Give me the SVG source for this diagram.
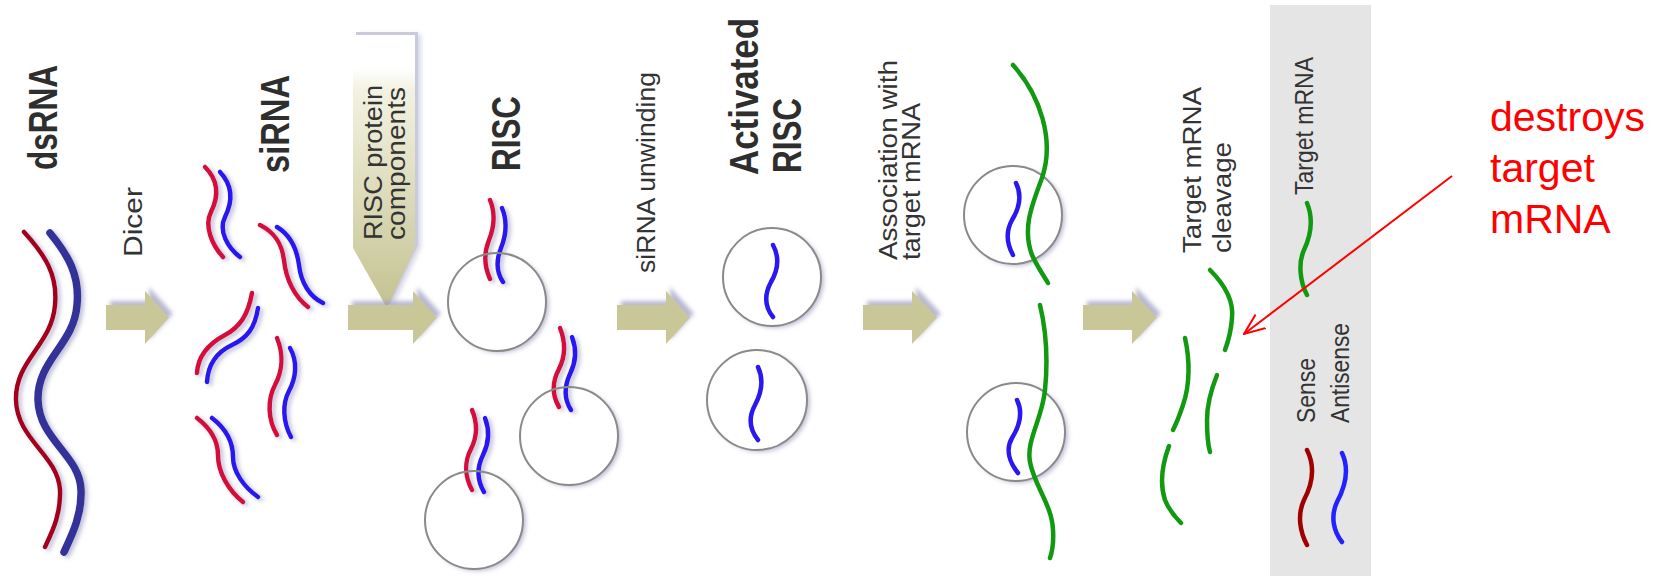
<svg xmlns="http://www.w3.org/2000/svg" width="1666" height="576" viewBox="0 0 1666 576">
  <style>
    .title { font-family: "Liberation Sans", Arial, sans-serif; font-weight: bold; font-size: 41px; fill: #2e2e2e; }
    .label { font-family: "Liberation Sans", Arial, sans-serif; font-size: 25px; fill: #333333; }
    .note { font-family: "Liberation Sans", Arial, sans-serif; font-size: 41px; fill: #ff0000; }
    .step { fill: #c9c798; filter: url(#lilac); }
    .cell { fill: #ffffff; filter: url(#halo); }
    .rim { fill: none; stroke: #8a8a8a; stroke-width: 2; }
    .ds-s { fill: none; stroke: #a4001c; stroke-width: 4.5; stroke-linecap: round; }
    .ds-a { fill: none; stroke: #333399; stroke-width: 7.5; stroke-linecap: round; }
    .s { fill: none; stroke: #d4103e; stroke-width: 4.5; stroke-linecap: round; }
    .a { fill: none; stroke: #2a18f0; stroke-width: 4.5; stroke-linecap: round; }
    .m { fill: none; stroke: #119a11; stroke-width: 4.5; stroke-linecap: round; }
    .shadowed { filter: url(#halo); }
  </style>
  <defs>
    <filter id="halo" x="-40%" y="-40%" width="180%" height="180%">
      <feDropShadow dx="3" dy="2" stdDeviation="2" flood-color="#8c8cb8" flood-opacity="0.55"/>
    </filter>
    <filter id="lilac" x="-40%" y="-40%" width="180%" height="180%">
      <feDropShadow dx="4" dy="-4" stdDeviation="2.2" flood-color="#9a9ac0" flood-opacity="0.7"/>
    </filter>
    <linearGradient id="boxFill" x1="0" y1="0" x2="0" y2="1">
      <stop offset="0" stop-color="#ffffff"/>
      <stop offset="0.12" stop-color="#ffffff"/>
      <stop offset="0.2" stop-color="#f3f2e2"/>
      <stop offset="1" stop-color="#c4c290"/>
    </linearGradient>
    <marker id="openHead" markerUnits="userSpaceOnUse" viewBox="0 0 22 20" markerWidth="22" markerHeight="20" refX="21" refY="10" orient="auto">
      <path d="M0,1.5 L21,10 L0,18.5" fill="none" stroke="#ff0000" stroke-width="2"/>
    </marker>
  </defs>

  <rect width="1666" height="576" fill="#ffffff"/>

  <!-- legend band -->
  <g id="legend">
    <rect x="1270" y="5" width="101" height="571" fill="#e5e5e5"/>
    <text class="label" font-size="28" transform="translate(1313,195) rotate(-90)" textLength="138" lengthAdjust="spacingAndGlyphs">Target mRNA</text>
    <path class="m" d="M1307,203 C1314,220 1311,235 1304,250 C1298,263 1300,282 1307,295"/>
    <text class="label" font-size="29" transform="translate(1315,423) rotate(-90)" textLength="65" lengthAdjust="spacingAndGlyphs">Sense</text>
    <text class="label" font-size="29" transform="translate(1349,423) rotate(-90)" textLength="100" lengthAdjust="spacingAndGlyphs">Antisense</text>
    <path fill="none" stroke="#a00000" stroke-width="4.5" stroke-linecap="round" d="M1307,450 C1316,468 1312,485 1304,500 C1297,515 1300,532 1307,545"/>
    <path fill="none" stroke="#2222ff" stroke-width="4.5" stroke-linecap="round" d="M1342,453 C1350,470 1345,487 1337,502 C1330,517 1334,532 1342,542"/>
  </g>

  <!-- dsRNA -->
  <g id="dsRNA">
    <text class="title" transform="translate(57,170) rotate(-90)" textLength="105" lengthAdjust="spacingAndGlyphs">dsRNA</text>
    <path class="ds-s shadowed" d="M24,232 C45,255 58,275 55,305 C52,345 15,360 16,400 C17,440 58,455 60,490 C61,515 52,532 45,547"/>
    <path class="ds-a shadowed" d="M50,233 C68,255 80,275 77,305 C74,345 37,360 38,400 C39,440 80,455 81,490 C82,515 72,535 64,552"/>
  </g>

  <!-- siRNA duplexes -->
  <g id="siRNA">
    <text class="title" transform="translate(289,173) rotate(-90)" textLength="98" lengthAdjust="spacingAndGlyphs">siRNA</text>
    <g class="shadowed">
      <path class="s" d="M205,167 C220,182 218,198 211,212 C204,226 212,245 223,257"/>
      <path class="a" d="M220,172 C234,187 232,203 225,217 C218,231 228,248 240,257"/>
      <path class="s" d="M260,225 C276,233 282,245 284,260 C286,280 295,297 308,307"/>
      <path class="a" d="M277,227 C292,236 297,250 299,265 C301,283 310,297 323,303"/>
      <path class="s" d="M252,293 C248,315 240,327 225,335 C210,343 198,355 197,373"/>
      <path class="a" d="M258,308 C255,328 247,338 232,345 C217,352 208,365 207,382"/>
      <path class="s" d="M277,338 C284,355 282,372 275,385 C267,400 268,420 277,435"/>
      <path class="a" d="M290,348 C298,362 296,378 289,391 C282,404 283,422 291,437"/>
      <path class="s" d="M197,418 C210,428 218,440 218,455 C218,472 228,490 243,502"/>
      <path class="a" d="M212,418 C225,428 233,442 233,457 C233,472 244,487 258,497"/>
    </g>
  </g>

  <!-- RISC protein components -->
  <g id="risc-proteins">
    <path d="M353,35 H415 V248 L387,308 L353,248 Z" fill="#a8a8c8" opacity="0.6" transform="translate(3,-3)" filter="url(#halo)"/>
    <path d="M353,35 H415 V248 L387,308 L353,248 Z" fill="url(#boxFill)"/>
    <text class="label" transform="translate(382,240) rotate(-90)" textLength="155" lengthAdjust="spacingAndGlyphs">RISC protein</text>
    <text class="label" transform="translate(405,240) rotate(-90)" textLength="153" lengthAdjust="spacingAndGlyphs">components</text>
  </g>

  <!-- RISC -->
  <g id="RISC">
    <text class="title" transform="translate(520,171) rotate(-90)" textLength="75" lengthAdjust="spacingAndGlyphs">RISC</text>
    <circle class="cell" cx="497" cy="302" r="49"/>
    <circle class="cell" cx="569" cy="436" r="49"/>
    <circle class="cell" cx="474" cy="520" r="49"/>
    <g class="shadowed">
      <path class="s" d="M490,200 C495,212 495,225 489,240 C483,255 485,268 490,279"/>
      <path class="a" d="M502,208 C507,220 507,233 501,248 C495,263 497,273 503,282"/>
      <path class="s" d="M560,328 C566,343 565,357 559,369 C552,382 552,395 559,407"/>
      <path class="a" d="M572,337 C577,350 576,362 570,374 C564,387 564,399 571,410"/>
      <path class="s" d="M472,410 C478,424 477,437 471,449 C464,462 465,477 472,490"/>
      <path class="a" d="M485,418 C490,431 489,443 483,455 C477,467 477,480 484,492"/>
    </g>
    <circle class="rim" cx="497" cy="302" r="49"/>
    <circle class="rim" cx="569" cy="436" r="49"/>
    <circle class="rim" cx="474" cy="520" r="49"/>
  </g>

  <!-- Activated RISC -->
  <g id="activated-RISC">
    <!-- condensed by a scale along the reading direction (184.5 px natural -> 157 px) -->
    <text class="title" transform="translate(758,175) rotate(-90) scale(0.851,1)">Activated</text>
    <text class="title" transform="translate(801,173) rotate(-90)" textLength="75" lengthAdjust="spacingAndGlyphs">RISC</text>
    <circle class="cell" cx="772" cy="277" r="49"/>
    <circle class="cell" cx="757" cy="400" r="50"/>
    <path class="a" d="M773,245 C780,258 778,270 771,282 C764,295 765,307 773,317"/>
    <path class="a" d="M758,367 C764,380 762,392 755,405 C748,418 750,430 758,440"/>
    <circle class="rim" cx="772" cy="277" r="49"/>
    <circle class="rim" cx="757" cy="400" r="50"/>
  </g>

  <!-- RISC bound to target mRNA -->
  <g id="target-bound">
    <circle class="cell" cx="1013" cy="215" r="49"/>
    <circle class="cell" cx="1016" cy="432" r="49"/>
    <circle class="rim" cx="1013" cy="215" r="49"/>
    <circle class="rim" cx="1016" cy="432" r="49"/>
    <path class="a" d="M1016,183 C1022,195 1020,207 1012,220 C1005,233 1008,246 1013,255"/>
    <path class="a" d="M1017,400 C1023,412 1020,425 1012,438 C1005,450 1010,463 1018,473"/>
    <path class="m" d="M1013,65 C1040,95 1055,140 1042,178 C1032,205 1022,228 1032,255 C1038,268 1044,276 1048,283"/>
    <path class="m" d="M1040,305 C1046,330 1048,360 1045,390 C1042,420 1026,440 1030,462 C1034,485 1052,505 1053,530 C1054,545 1052,552 1050,558"/>
  </g>

  <!-- cleaved mRNA -->
  <g id="cleaved-mRNA">
    <path class="m" d="M1210,270 C1225,285 1234,300 1232,318 C1231,332 1228,342 1225,350"/>
    <path class="m" d="M1217,375 C1211,390 1207,405 1207,420 C1207,435 1208,445 1210,452"/>
    <path class="m" d="M1185,338 C1190,360 1190,385 1183,405 C1179,417 1176,424 1173,430"/>
    <path class="m" d="M1169,446 C1162,465 1160,485 1165,500 C1169,510 1175,517 1181,523"/>
  </g>

  <!-- step arrows and their captions -->
  <g id="steps">
    <path class="step" d="M106,305 H145 V291 L169,317.5 L145,344 V330 H106 Z"/>
    <path class="step" d="M348,305 H413 V291 L437,317.5 L413,344 V330 H348 Z"/>
    <path class="step" d="M617,305 H666 V291 L690,317.5 L666,344 V330 H617 Z"/>
    <path class="step" d="M863,305 H912 V291 L937,317.5 L912,344 V330 H863 Z"/>
    <path class="step" d="M1083,305 H1132 V291 L1157,317.5 L1132,344 V330 H1083 Z"/>
    <text class="label" font-size="34" transform="translate(142,257) rotate(-90)" textLength="70" lengthAdjust="spacingAndGlyphs">Dicer</text>
    <text class="label" transform="translate(655,273) rotate(-90)" textLength="201" lengthAdjust="spacingAndGlyphs">siRNA unwinding</text>
    <text class="label" font-size="29" transform="translate(897,260) rotate(-90)" textLength="200" lengthAdjust="spacingAndGlyphs">Association with</text>
    <text class="label" font-size="29" transform="translate(920,260) rotate(-90)" textLength="157" lengthAdjust="spacingAndGlyphs">target mRNA</text>
    <text class="label" font-size="28" transform="translate(1201,253) rotate(-90)" textLength="166" lengthAdjust="spacingAndGlyphs">Target mRNA</text>
    <text class="label" font-size="28" transform="translate(1231,253) rotate(-90)" textLength="111" lengthAdjust="spacingAndGlyphs">cleavage</text>
  </g>

  <!-- annotation -->
  <g id="annotation">
    <text class="note" x="1490" y="131">destroys</text>
    <text class="note" x="1490" y="182">target</text>
    <text class="note" x="1490" y="233">mRNA</text>
  </g>
  <g id="connectors">
    <line x1="1452" y1="176" x2="1244" y2="334" stroke="#ff0000" stroke-width="2" marker-end="url(#openHead)"/>
  </g>
</svg>
